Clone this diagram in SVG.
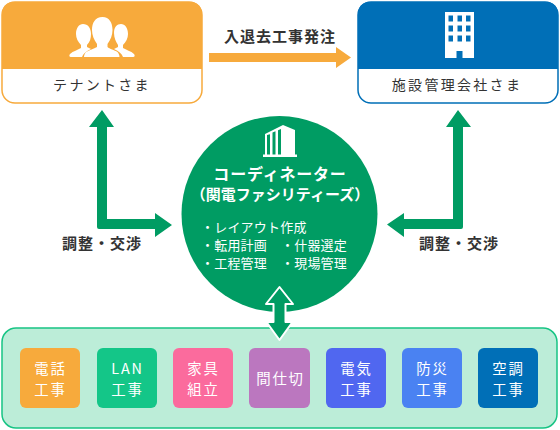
<svg xmlns="http://www.w3.org/2000/svg" width="560" height="430" viewBox="0 0 560 430">
<style>
text{font-family:"Noto Sans CJK JP","Liberation Sans",sans-serif;}
.lab{font-size:14px;fill:#333;letter-spacing:2.3px;text-anchor:middle}
.hd{font-size:15px;font-weight:700;fill:#333;letter-spacing:1px;text-anchor:middle}
.ct{font-size:13px;fill:#fff;letter-spacing:.2px}
.cat{font-size:14.400px;fill:#fff;text-anchor:middle;letter-spacing:1.800px}
.ti{font-weight:700;fill:#fff;text-anchor:middle}
.tile{stroke:none}
</style>
<g id="connectors">
<path fill="#f7aa3c" d="M209 53H336V47L351 57.500 336 68V62H209Z"/>
<path fill="#009c63" d="M97 127H89L102 110 114 127H107V219H155V213L172 225 155 237V229H99Q97 229 97 227Z"/>
<path fill="#009c63" d="M463 127H471L458 110 446 127H453V219H404V213L387 224.500 404 237V229H461Q463 229 463 227Z"/>
</g>
<g id="tenant">
<rect x="2" y="2" width="200" height="101" rx="13" fill="#fff" stroke="#f7aa3c" stroke-width="1.5"/>
<path fill="#f7aa3c" d="M15 2H189Q202 2 202 15V69H2V15Q2 2 15 2Z"/>
<g fill="#fff">
<path d="M83 24c5 0 8 4 8 10 0 4-1 8-4 11v2l4 2c-5 2-8 5-9 8H71c-2 0-2-2-1-3 3-3 8-4 11-6v-3c-3-3-5-7-5-11 0-6 3-10 7-10z"/>
<path d="M121 24c-4 0-7 3-7 9 0 5 2 9 4 12v2l-4 2c5 2 8 5 9 8h5 h5c2 0 2-2 1-3-3-3-8-4-11-6v-3c3-3 5-7 5-11 0-6-3-10-7-10z"/>
<path d="M102.500 17c7 0 10 6 10 13 0 5-2 10-5 14v3c2 2 7 3 10 5 1 1 2 3 2 5H84c0-2 1-4 2-5 3-2 8-3 11-5v-3c-3-4-5-9-5-14 0-7 3-13 10.500-13z"/>
</g>
<text class="lab" x="102" y="90">テナントさま</text>
</g>
<g id="manager">
<rect x="358" y="2" width="200" height="101" rx="13" fill="#fff" stroke="#006fb7" stroke-width="1.5"/>
<path fill="#006fb7" d="M371 2H545Q558 2 558 15V69H358V15Q358 2 371 2Z"/>
<path fill="#fff" fill-rule="evenodd" d="M445 12h29v46h-11.500V51h-6v7h-11.500zM448.500 15.500v6h4.500v-6zM457.500 15.500v6h4.500v-6zM466 15.500v6h4.500v-6zM448.500 25.500v6h4.500v-6zM457.500 25.500v6h4.500v-6zM466 25.500v6h4.500v-6zM448.500 35.500v6h4.500v-6zM457.500 35.500v6h4.500v-6zM466 35.500v6h4.500v-6z"/>
<text class="lab" x="457" y="90">施設管理会社さま</text>
</g>
<text class="hd" x="280" y="42">入退去工事発注</text>
<text class="hd" x="102" y="249">調整・交渉</text>
<text class="hd" x="459" y="249">調整・交渉</text>
<g id="coordinator">
<circle cx="279.500" cy="214" r="98" fill="#009c63"/>
<path fill="#fff" fill-rule="evenodd" d="M263 157v-2.500h2V134L283 125 295 130V154.500h2V157ZM267 135v19.500h3V134.200ZM272.500 132.500v22h3V131.200ZM278 130.200v24.300h3V129Z"/>
<text class="ti" x="280" y="180" style="font-size:16px;letter-spacing:.8px">コーディネーター</text>
<text class="ti" x="280" y="200" style="font-size:15px">（関電ファシリティーズ）</text>
<text class="ct" x="201" y="232">・レイアウト作成</text>
<text class="ct" x="201" y="250">・転用計画</text>
<text class="ct" x="281" y="250">・什器選定</text>
<text class="ct" x="201" y="268">・工程管理</text>
<text class="ct" x="281" y="268">・現場管理</text>
</g>
<g id="services">
<rect x="2" y="328" width="555" height="100" rx="14" fill="#bcedd8" stroke="#17c484" stroke-width="1.500"/>
<g id="s1"><rect class="tile" x="20" y="348" width="60" height="60" rx="6" fill="#f7aa3c"/><text class="cat"><tspan x="50.500" y="373.500">電話</tspan><tspan x="50.500" y="394.500">工事</tspan></text></g>
<g id="s2"><rect class="tile" x="97" y="348" width="60" height="60" rx="6" fill="#14c688"/><text class="cat"><tspan x="127.500" y="373.500">LAN</tspan><tspan x="127.500" y="394.500">工事</tspan></text></g>
<g id="s3"><rect class="tile" x="173" y="348" width="60" height="60" rx="6" fill="#fb6b9d"/><text class="cat"><tspan x="203.500" y="373.500">家具</tspan><tspan x="203.500" y="394.500">組立</tspan></text></g>
<g id="s4"><rect class="tile" x="249" y="348" width="61" height="60" rx="6" fill="#bb77bf"/><text class="cat" x="280.500" y="384">間仕切</text></g>
<g id="s5"><rect class="tile" x="326" y="348" width="60" height="60" rx="6" fill="#5067f0"/><text class="cat"><tspan x="356.500" y="373.500">電気</tspan><tspan x="356.500" y="394.500">工事</tspan></text></g>
<g id="s6"><rect class="tile" x="402" y="348" width="60" height="60" rx="6" fill="#4a82f2"/><text class="cat"><tspan x="432.500" y="373.500">防災</tspan><tspan x="432.500" y="394.500">工事</tspan></text></g>
<g id="s7"><rect class="tile" x="478" y="348" width="60" height="60" rx="6" fill="#006fb7"/><text class="cat"><tspan x="508.500" y="373.500">空調</tspan><tspan x="508.500" y="394.500">工事</tspan></text></g>
</g>
<path id="link" fill="#009c63" stroke="#fff" stroke-width="2" stroke-linejoin="round" d="M279.500 287L293 304H285.500V322H292.500L279.500 340 266.500 322H273.500V304H266Z"/>
</svg>
